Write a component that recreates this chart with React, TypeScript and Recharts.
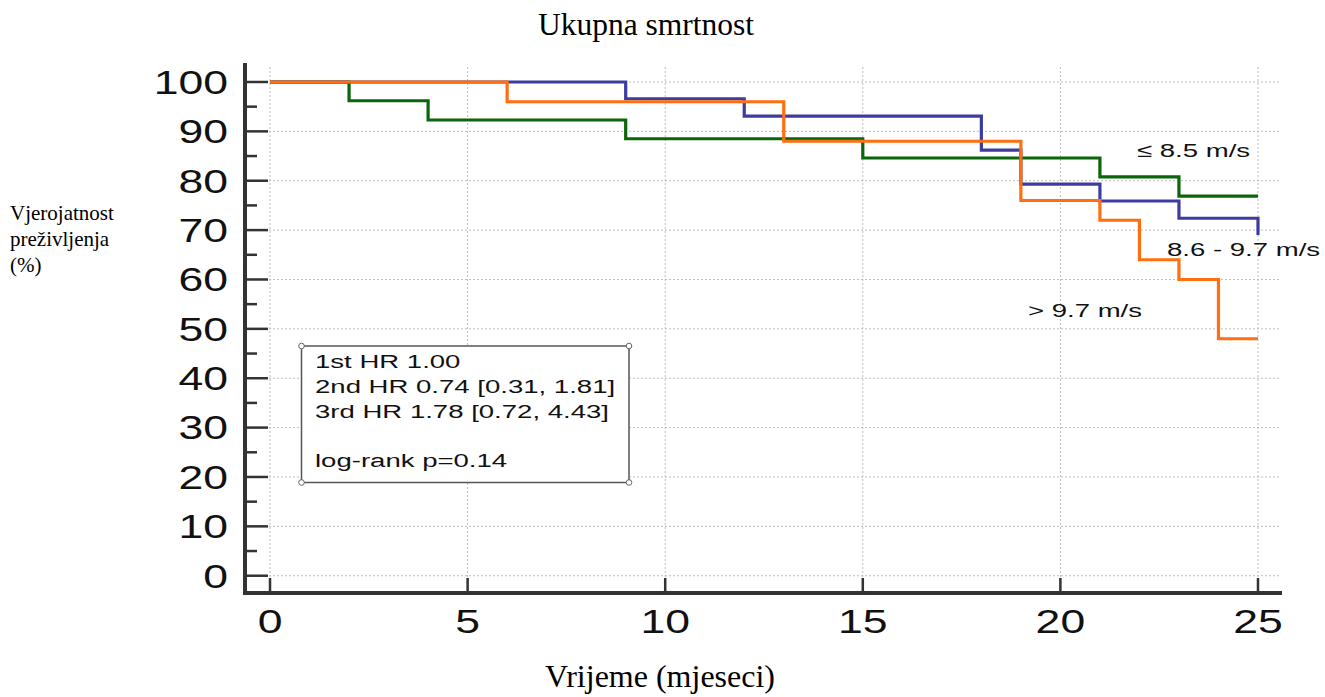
import React from 'react';
import { LineChart, Line, XAxis, YAxis, ReferenceLine } from 'recharts';

// ---- data ----
const xTicks = [0, 5, 10, 15, 20, 25];
const yTicks = [0, 5, 10, 15, 20, 25, 30, 35, 40, 45, 50, 55, 60, 65, 70, 75, 80, 85, 90, 95, 100];
const xGrid = [0, 5, 10, 15, 20, 25];
const yGrid = [0, 10, 20, 30, 40, 50, 60, 70, 80, 90, 100];

const lowTimes = [0, 2, 4, 9, 15, 21, 23, 25];
const lowSurv = [100, 96.2, 92.3, 88.5, 84.6, 80.8, 76.9, 76.9];

const midTimes = [0, 9, 12, 18, 19, 21, 23, 25];
const midSurv = [100, 96.6, 93.1, 86.2, 79.3, 75.9, 72.4, 69.0];

const highTimes = [0, 6, 13, 19, 21, 22, 23, 24, 25];
const highSurv = [100, 96, 88, 76, 72, 64, 60, 48, 48];

const seriesLabels = ['≤ 8.5 m/s', '8.6 - 9.7 m/s', '> 9.7 m/s'];
const hrLines = ['1st HR 1.00', '2nd HR 0.74 [0.31, 1.81]', '3rd HR 1.78 [0.72, 4.43]', '', 'log-rank p=0.14'];

const title = 'Ukupna smrtnost';
const xLabel = 'Vrijeme (mjeseci)';
const yLabelLines = ['Vjerojatnost', 'preživljenja', '(%)'];

const toSeries = (times: number[], surv: number[]) => times.map((t, i) => ({ t, s: surv[i] }));
const lowData = toSeries(lowTimes, lowSurv);
const midData = toSeries(midTimes, midSurv);
const highData = toSeries(highTimes, highSurv);

const SANS = '"Liberation Sans", Arial, sans-serif';
const SERIF = '"Liberation Serif", "Times New Roman", serif';
const AXIS = '#333333';
const STRETCH = 1.35;

const YTick = (props: any) => {
  const { x, y, payload } = props;
  const v = payload.value as number;
  const major = v % 10 === 0;
  return (
    <g>
      <line x1={x} x2={x + (major ? 23 : 12)} y1={y} y2={y} stroke={AXIS} strokeWidth={2.5} />
      {major && (
        <text
          transform={`translate(${x - 17},${y}) scale(${STRETCH},1)`}
          textAnchor="end"
          dy="0.358em"
          fontSize={33}
          fontFamily={SANS}
          fill="#111"
        >
          {v}
        </text>
      )}
    </g>
  );
};

const XTick = (props: any) => {
  const { x, y, payload } = props;
  const v = payload.value as number;
  return (
    <g>
      <line x1={x} x2={x} y1={y} y2={y - 15} stroke={AXIS} strokeWidth={2.5} />
      <text
        transform={`translate(${x},${y + 40}) scale(${STRETCH},1)`}
        textAnchor="middle"
        fontSize={33}
        fontFamily={SANS}
        fill="#111"
      >
        {v}
      </text>
    </g>
  );
};

const W = 1325;
const H = 697;

export default function App() {
  return (
    <div style={{ position: 'absolute', left: 0, top: 0, width: W, height: H, background: '#fff' }}>
      <LineChart
        width={W}
        height={H}
        margin={{ top: 65, right: 45, bottom: 0, left: 5 }}
        style={{ position: 'absolute', left: 0, top: 0 }}
      >
        <XAxis
          type="number"
          dataKey="t"
          domain={[-0.633, 25.557]}
          allowDataOverflow
          ticks={xTicks}
          interval={0}
          height={104}
          tickLine={false}
          tickSize={0}
          tickMargin={0}
          tick={<XTick />}
          axisLine={{ stroke: AXIS, strokeWidth: 4, strokeLinecap: 'square' }}
        />
        <YAxis
          type="number"
          dataKey="s"
          domain={[-3.5, 103.44]}
          allowDataOverflow
          ticks={yTicks}
          interval={0}
          width={240}
          tickLine={false}
          tickSize={0}
          tickMargin={0}
          tick={<YTick />}
          axisLine={{ stroke: AXIS, strokeWidth: 4, strokeLinecap: 'square' }}
        />
        {yGrid.map((v) => (
          <ReferenceLine key={'h' + v} y={v} stroke="#bdbdbd" strokeWidth={1} strokeDasharray="2 2" />
        ))}
        {xGrid.map((v) => (
          <ReferenceLine key={'v' + v} x={v} stroke="#bdbdbd" strokeWidth={1} strokeDasharray="2 2" />
        ))}
        <Line
          data={lowData}
          dataKey="s"
          type="stepAfter"
          stroke="#0a660a"
          strokeWidth={3.2}
          dot={false}
          activeDot={false}
          isAnimationActive={false}
        />
        <Line
          data={midData}
          dataKey="s"
          type="stepAfter"
          stroke="#3c3ca0"
          strokeWidth={3.2}
          dot={false}
          activeDot={false}
          isAnimationActive={false}
        />
        <Line
          data={highData}
          dataKey="s"
          type="stepAfter"
          stroke="#ff6e10"
          strokeWidth={3.2}
          dot={false}
          activeDot={false}
          isAnimationActive={false}
        />
      </LineChart>
      <svg
        width={W}
        height={H}
        style={{ position: 'absolute', left: 0, top: 0, pointerEvents: 'none' }}
      >
        <text x={646} y={35} textAnchor="middle" fontSize={31.5} fontFamily={SERIF} fill="#000">
          {title}
        </text>
        <text x={660} y={687} textAnchor="middle" fontSize={32} fontFamily={SERIF} fill="#000">
          {xLabel}
        </text>
        {yLabelLines.map((s, i) => (
          <text key={s} x={10} y={220 + i * 26} fontSize={21} fontFamily={SERIF} fill="#000">
            {s}
          </text>
        ))}
        <rect x={301.5} y={346} width={327.5} height={136.5} fill="#fff" stroke="#555" strokeWidth={1.5} />
        {[
          [301.5, 346],
          [629, 346],
          [301.5, 482.5],
          [629, 482.5],
        ].map(([cx, cy], i) => (
          <circle key={i} cx={cx} cy={cy} r={2.8} fill="#fff" stroke="#666" strokeWidth={1} />
        ))}
        {hrLines.map((s, i) =>
          s ? (
            <text
              key={i}
              transform={`translate(315,${368 + i * 24.8}) scale(1.45,1)`}
              fontSize={19}
              fontFamily={SANS}
              fill="#111"
            >
              {s}
            </text>
          ) : null
        )}
        <text transform="translate(1137,157) scale(1.45,1)" fontSize={19} fontFamily={SANS} fill="#111">
          {seriesLabels[0]}
        </text>
        <text transform="translate(1167,256) scale(1.45,1)" fontSize={19} fontFamily={SANS} fill="#111">
          {seriesLabels[1]}
        </text>
        <text transform="translate(1028,317) scale(1.45,1)" fontSize={19} fontFamily={SANS} fill="#111">
          {seriesLabels[2]}
        </text>
      </svg>
    </div>
  );
}
